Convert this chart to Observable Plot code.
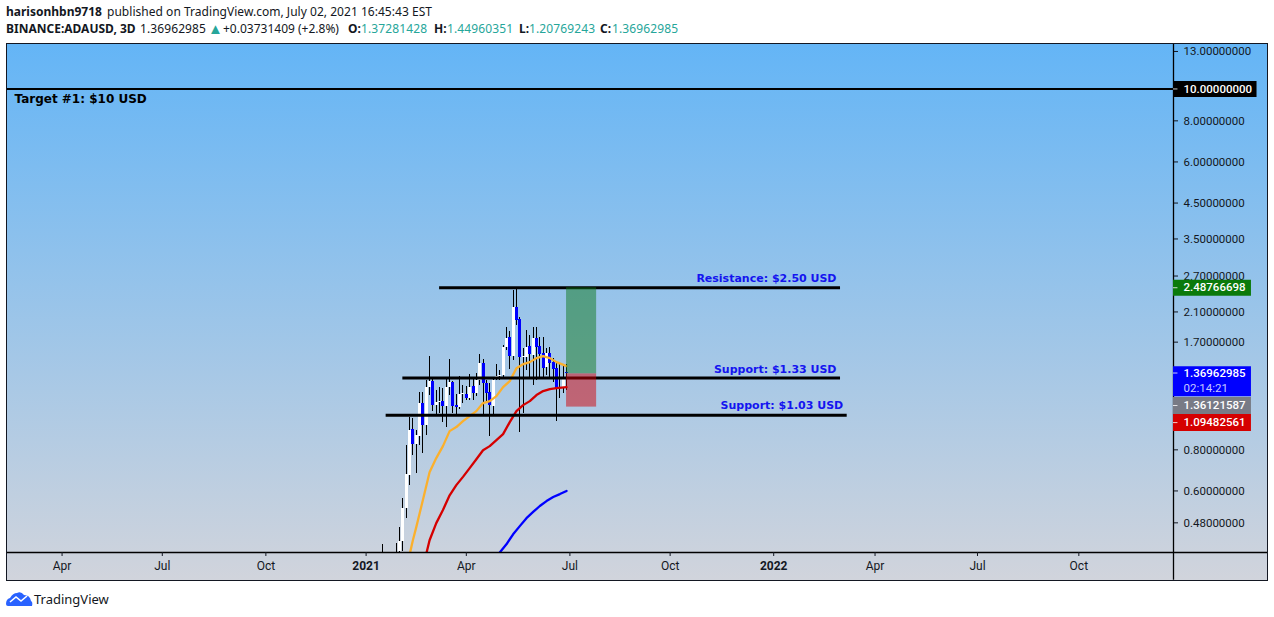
<!DOCTYPE html>
<html><head><meta charset="utf-8">
<script src="https://cdn.jsdelivr.net/npm/d3@7"></script>
<script src="https://cdn.jsdelivr.net/npm/@observablehq/plot@0.6"></script>
<style>
html,body{margin:0;padding:0;background:#fff;width:1274px;height:617px;overflow:hidden;font-family:"Noto Sans",sans-serif;color:#131722}
.h{position:absolute;font-size:12px;white-space:nowrap;line-height:16px}
.h b{font-weight:700}.t{color:#26a69a;letter-spacing:.12px}
#chart{position:absolute;left:6px;top:43px;width:1260px;height:536px;border:1px solid #131722}
#chart svg{display:block}
#brand{position:absolute;left:34px;top:590px;font-size:13px;line-height:18px;color:#131722}
#logo{position:absolute;left:6px;top:590px}
</style></head><body>
<div class="h" style="left:6px;top:4px"><b>harisonhbn9718</b></div>
<div class="h" style="left:107px;top:4px;letter-spacing:.03px">published on TradingView.com, July 02, 2021 16:45:43 EST</div>
<div class="h" style="left:6px;top:21px"><b>BINANCE:ADAUSD, 3D</b></div>
<div class="h" style="left:140px;top:21px;letter-spacing:.1px">1.36962985</div>
<div class="h t" style="left:208px;top:20px;font-size:15px">▲</div>
<div class="h" style="left:223px;top:21px">+0.03731409 (+2.8%)</div>
<div class="h" style="left:348px;top:21px"><b>O:</b></div><div class="h t" style="left:361px;top:21px">1.37281428</div>
<div class="h" style="left:434px;top:21px"><b>H:</b></div><div class="h t" style="left:447px;top:21px">1.44960351</div>
<div class="h" style="left:519px;top:21px"><b>L:</b></div><div class="h t" style="left:529px;top:21px">1.20769243</div>
<div class="h" style="left:600px;top:21px"><b>C:</b></div><div class="h t" style="left:612px;top:21px">1.36962985</div>
<div id="chart"></div>
<svg id="logo" width="27" height="18" viewBox="0 0 27 18"><path d="M0 14 Q0 9 4 8 Q7 3 11 3 Q15 1 18 5 Q24 5 25 11 Q27 12 26 16 L2 16 Q0 16 0 14Z" fill="#2962ff"/><path d="M4 12 L10 7 L15 11 L21 6" stroke="#fff" stroke-width="1.6" fill="none"/></svg>
<div id="brand">TradingView</div>
<script>
const firstCandle = "2021-01-14";
const opens = [0.34,0.37,0.35,0.36,0.36,0.392,0.422,0.532,0.670,0.925,0.830,0.880,1.110,0.951,1.241,1.294,1.094,1.117,1.125,1.087,1.241,1.285,1.094,1.079,1.178,1.182,1.149,1.250,1.190,1.303,1.467,1.276,1.198,1.087,1.331,1.340,1.350,1.641,1.760,1.541,2.170,1.995,1.530,1.530,1.652,1.552,1.748,1.652,1.574,1.427,1.574,1.478,1.417,1.232,1.232,1.37281428];
const highs = [0.413,0.385,0.38,0.385,0.416,0.465,0.568,0.824,1.006,0.999,0.918,1.198,1.198,1.303,1.541,1.322,1.215,1.241,1.232,1.322,1.509,1.294,1.182,1.340,1.258,1.250,1.359,1.331,1.369,1.563,1.509,1.303,1.276,1.331,1.457,1.397,1.664,1.886,1.835,2.444,2.478,2.024,1.629,1.848,1.785,1.886,1.886,1.760,1.760,1.629,1.641,1.520,1.467,1.467,1.437,1.44960351];
const lows = [0.33,0.33,0.32,0.33,0.34,0.37,0.394,0.496,0.625,0.770,0.680,0.824,0.782,0.887,1.174,1.049,1.027,1.034,0.971,0.938,1.174,1.034,1.027,1.064,1.110,1.133,1.133,1.133,1.165,1.258,1.027,1.110,0.880,1.020,1.303,1.303,1.331,1.607,1.407,1.498,1.913,0.905,1.034,1.397,1.322,1.258,1.303,1.322,1.331,1.350,1.331,1.285,0.978,1.149,1.190,1.20769243];
const closes = [0.37,0.35,0.36,0.37,0.385,0.422,0.532,0.675,0.918,0.830,0.887,1.110,0.951,1.241,1.294,1.094,1.117,1.125,1.087,1.241,1.285,1.087,1.079,1.182,1.186,1.149,1.241,1.190,1.303,1.467,1.276,1.190,1.094,1.303,1.340,1.350,1.641,1.748,1.541,2.170,1.981,1.530,1.541,1.641,1.563,1.748,1.641,1.563,1.417,1.574,1.467,1.407,1.232,1.241,1.331,1.36962985];

const orangeIdx = [8,9,10,12,14,16,18,20,22,24,26,28,30,32,34,36,38,40,42,44,46,48,50,52,55];
const orangeVal = [0.383,0.425,0.465,0.563,0.684,0.755,0.821,0.912,0.938,0.978,1.013,1.049,1.110,1.125,1.165,1.241,1.294,1.417,1.457,1.478,1.520,1.541,1.520,1.478,1.437];
const redIdx = [13,14,16,18,20,22,24,26,28,30,32,34,36,38,40,42,44,46,48,50,52,55];
const redVal = [0.386,0.425,0.479,0.525,0.582,0.625,0.662,0.704,0.749,0.798,0.821,0.856,0.893,0.971,1.049,1.094,1.125,1.174,1.207,1.224,1.232,1.241];
const blueIdx = [35,37,39,41,43,45,47,49,51,53,55];
const blueVal = [0.390,0.413,0.443,0.469,0.496,0.518,0.540,0.559,0.575,0.587,0.600];

const yTicks = [13,8,6,4.5,3.5,2.7,2.1,1.7,0.8,0.6,0.48];
const monthTickDates = ["2020-04-01","2020-06-30","2020-10-01","2021-03-30","2021-07-01","2021-09-29","2022-04-01","2022-07-02","2022-10-01"].map(d=>new Date(d));
const monthTickLabels = ["Apr","Jul","Oct","Apr","Jul","Oct","Apr","Jul","Oct"];
const yearTickDates = ["2020-12-30","2021-12-31"].map(d=>new Date(d));
const yearTickLabels = ["2021","2022"];

const xStart = new Date("2020-02-12"), xEnd = new Date("2022-12-25");
const yMin = 0.39, yMax = 13.65, yAxisFoot = 0.3214;
const tagTick = new Date("2022-12-29"), axisLineEnd = new Date("2023-04-15");
const levelNames = ["Resistance: $2.50 USD","Support: $1.33 USD","Support: $1.03 USD"];
const levelPrices = [2.48766698,1.322,1.02];
const levelStarts = ["2021-03-06","2021-02-01","2021-01-17"].map(d=>new Date(d));
const levelEnds = ["2022-03-01","2022-03-01","2022-03-07"].map(d=>new Date(d));
const labelDy = [-9,-9,-10];

const boxStart = new Date("2021-06-28"), boxEnd = new Date("2021-07-25");
const boxEntry = 1.3612, boxTarget = 2.48766698, boxStop = 1.079;

const tagLabels = ["10.00000000","2.48766698","1.36962985","1.36121587","1.09482561"];
const tagCenters = [10,2.48766698,1.294,1.091,0.968];
const tagTextAt = [10,2.48766698,1.3696,1.091,0.968];
const tagColors = ["#000000","#0b7a0b","#0000ff","#787b86","#d50000"];
const tagHeights = [16,16,30,17,17];
const tagEnds = ["2023-03-10","2023-03-05","2023-03-05","2023-03-05","2023-03-05"].map(d=>new Date(d));

const dates = opens.map((_,i)=>d3.utcDay.offset(new Date(firstCandle),3*i));
const candles = opens.map((o,i)=>({d:dates[i],o,h:highs[i],l:lows[i],c:closes[i],up:closes[i]>=o}));
const lineOf=(idx,val)=>idx.map((k,i)=>({d:dates[k],v:val[i]}));
const levels = levelNames.map((n,i)=>({n,p:levelPrices[i],a:levelStarts[i],b:levelEnds[i],dy:labelDy[i]}));
const tags = tagLabels.map((t,i)=>({t,c:tagCenters[i],y:tagTextAt[i],col:tagColors[i],h:tagHeights[i],e:tagEnds[i]}));
const lookup=(ds,ls)=>{const m=new Map(ds.map((d,i)=>[+d,ls[i]]));return d=>m.get(+d);};
const numFont="Roboto,sans-serif";

const fig = Plot.plot({
  width:1260,height:536,marginLeft:0,marginRight:94,marginTop:0,marginBottom:28,
  style:{background:"linear-gradient(#64b5f6 0%,#d1d4dc 100%)",fontFamily:numFont,color:"#131722",fontSize:"12px"},
  x:{type:"utc",domain:[xStart,xEnd],axis:null},
  y:{type:"log",domain:[yMin,yMax],axis:null},
  marks:[
    Plot.ruleX(candles,{x:"d",y1:"l",y2:"h",stroke:"#000",strokeWidth:1,clip:true,shapeRendering:"crispEdges"}),
    Plot.ruleX(candles,{x:"d",y1:"o",y2:"c",stroke:d=>d.up?"#fff":"#0000ff",strokeWidth:3,clip:true,shapeRendering:"crispEdges"}),
    Plot.line(lineOf(orangeIdx,orangeVal),{x:"d",y:"v",stroke:"#fbb02d",strokeWidth:2.3,clip:true}),
    Plot.line(lineOf(redIdx,redVal),{x:"d",y:"v",stroke:"#d50000",strokeWidth:2.3,clip:true}),
    Plot.line(lineOf(blueIdx,blueVal),{x:"d",y:"v",stroke:"#0000ff",strokeWidth:2.3,clip:true}),
    Plot.ruleY([10],{x1:xStart,x2:xEnd,stroke:"#000",strokeWidth:2}),
    Plot.ruleY(levels,{y:"p",x1:"a",x2:"b",stroke:"#000",strokeWidth:3}),
    Plot.rect([{}],{x1:boxStart,x2:boxEnd,y1:boxEntry,y2:boxTarget,fill:"#0f781e",fillOpacity:0.5}),
    Plot.rect([{}],{x1:boxStart,x2:boxEnd,y1:boxStop,y2:boxEntry,fill:"#d20005",fillOpacity:0.5}),
    ...levels.map(l=>Plot.text([l],{x:"b",y:"p",text:"n",textAnchor:"end",dy:l.dy,dx:-4,fill:"#1414f0",fontWeight:"bold",fontFamily:"'DejaVu Sans',sans-serif",fontSize:11})),
    Plot.text(["Target #1: $10 USD"],{x:xStart,y:10,text:d=>d,textAnchor:"start",dx:7,dy:10,fill:"#000",fontWeight:"bold",fontFamily:"'DejaVu Sans',sans-serif",fontSize:12}),
    Plot.ruleX([xEnd],{y1:yAxisFoot,y2:yMax,stroke:"#000",strokeWidth:1.3}),
    Plot.ruleY([yMin],{stroke:"#000",strokeWidth:1.3,x1:xStart,x2:axisLineEnd}),
    Plot.axisY(yTicks,{anchor:"right",tickFormat:d=>d.toFixed(8),tickSize:4,tickPadding:6,fontSize:11.5,label:null}),
    Plot.axisX(monthTickDates,{tickFormat:lookup(monthTickDates,monthTickLabels),tickSize:4,tickPadding:5,fontSize:12,label:null}),
    Plot.axisX(yearTickDates,{tickFormat:lookup(yearTickDates,yearTickLabels),tickSize:4,tickPadding:5,fontSize:12,fontWeight:"bold",label:null}),
    Plot.ruleY(tags,{y:"c",x1:xEnd,x2:"e",stroke:"col",strokeWidth:"h"}),
    Plot.ruleY(tags,{y:"y",x1:xEnd,x2:tagTick,stroke:"#fff",strokeWidth:1,strokeOpacity:0.8}),
    Plot.text(tags,{x:xEnd,y:"y",text:"t",textAnchor:"start",dx:10,fill:"#fff",fontSize:11.5,fontWeight:500}),
    Plot.text(["02:14:21"],{x:xEnd,y:1.232,text:d=>d,textAnchor:"start",dx:10,fill:"#c8c8ff",fontSize:11.5})
  ]
});
document.getElementById("chart").append(fig);
</script>
</body></html>
